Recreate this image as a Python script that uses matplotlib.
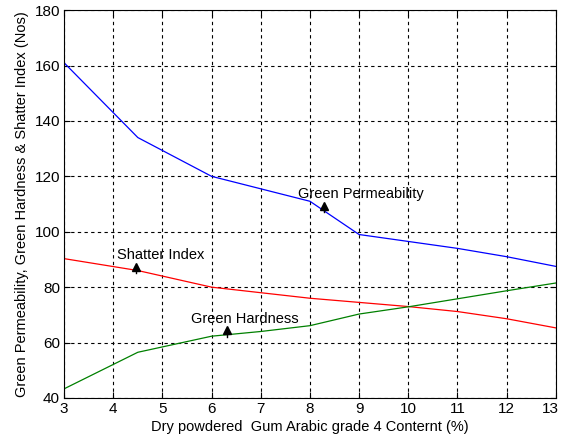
import matplotlib
matplotlib.use('Agg')
import matplotlib.pyplot as plt
import matplotlib.transforms as mtransforms

# data
content = [3, 4.5, 6, 7, 8, 9, 10, 11, 12, 13]
green_permeability = [161, 134, 120, 115.5, 111, 99, 96.5, 94, 91, 87.5]
shatter_index = [90.3, 86, 80, 78, 76, 74.5, 73, 71.2, 68.6, 65.3]
green_hardness = [43.3, 56.5, 62.3, 64, 66.1, 70.3, 72.9, 75.8, 78.7, 81.5]

# labels: arrow location and text start
labels = ['Green Permeability', 'Shatter Index', 'Green Hardness']
arrow_x = [8.28, 4.46, 6.32]
arrow_y = [108.5, 86.5, 63.5]
text_x = [7.75, 4.07, 5.59]
text_y = [113.5, 91.5, 68.5]

plt.rcParams['font.family'] = ['Liberation Sans', 'DejaVu Sans']

fig = plt.figure(figsize=(5.62, 4.40), dpi=100)
ax = fig.add_axes([0.114, 0.0955, 0.875, 0.8815])

ax.plot(content, green_permeability, color='#0000ff', lw=0.9)
ax.plot(content, shatter_index, color='#ff0000', lw=0.9)
ax.plot(content, green_hardness, color='#008000', lw=0.9)

for name, ax_, ay, tx, ty in zip(labels, arrow_x, arrow_y, text_x, text_y):
    ax.plot([ax_, ax_], [ay - 1.5, ay + 1], color='black', lw=1)
    ax.plot(ax_, ay + 0.9, marker='^', color='black', ms=6)
    ax.text(tx, ty, name, fontsize=10.5, ha='left', va='center')

ax.set_xlim(3, 13)
ax.set_ylim(40, 180)
ax.set_xticks(range(3, 14))
ax.set_yticks(range(40, 181, 20))
ax.grid(True, color='black', linestyle=(0, (3, 3)), lw=0.8)
ax.tick_params(direction='in', top=True, right=True, labelsize=11, length=4, pad=3)
for s in ax.spines.values():
    s.set_linewidth(0.8)

# keep the last x tick label inside the picture
last = ax.get_xticklabels()[-1]
last.set_transform(last.get_transform() + mtransforms.ScaledTranslation(-0.05, 0, fig.dpi_scale_trans))

ax.set_xlabel('Dry powdered  Gum Arabic grade 4 Conternt (%)', fontsize=10.5, labelpad=3)
ax.set_ylabel('Green Permeability, Green Hardness & Shatter Index (Nos)', fontsize=10.5, labelpad=4)

fig.savefig('out.png', dpi=100)
